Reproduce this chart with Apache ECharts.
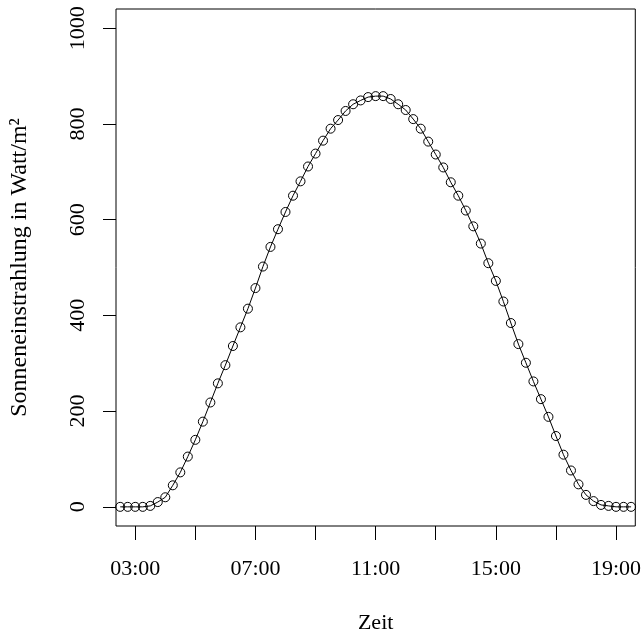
<!DOCTYPE html>
<html>
<head>
<meta charset="utf-8">
<script src="https://cdn.jsdelivr.net/npm/echarts@6/dist/echarts.min.js"></script>
<style>
  html, body { margin: 0; padding: 0; background: #fff; }
  #main { width: 644px; height: 639px; }
</style>
</head>
<body>
<div id="main"></div>
<script>
// Zeitpunkte (alle 15 Minuten)
var zeiten = [
  '02:30','02:45','03:00','03:15','03:30','03:45','04:00','04:15','04:30','04:45',
  '05:00','05:15','05:30','05:45','06:00','06:15','06:30','06:45','07:00','07:15',
  '07:30','07:45','08:00','08:15','08:30','08:45','09:00','09:15','09:30','09:45',
  '10:00','10:15','10:30','10:45','11:00','11:15','11:30','11:45','12:00','12:15',
  '12:30','12:45','13:00','13:15','13:30','13:45','14:00','14:15','14:30','14:45',
  '15:00','15:15','15:30','15:45','16:00','16:15','16:30','16:45','17:00','17:15',
  '17:30','17:45','18:00','18:15','18:30','18:45','19:00','19:15','19:30'
];
// Sonneneinstrahlung in W/m^2
var strahlung = [
  0, 0, 0, 0, 2, 10, 20, 45, 72, 105,
  140, 178, 218, 258, 296, 336, 375, 414, 457, 502,
  543, 580, 616, 650, 680, 711, 738, 765, 790, 808,
  827, 841, 849, 856, 858, 858, 852, 841, 829, 810,
  790, 763, 736, 709, 678, 650, 619, 586, 550, 509,
  472, 429, 384, 340, 301, 262, 225, 188, 148, 109,
  76, 47, 25, 12, 4, 2, 0, 0, 0
];
var xTicks = ['03:00','05:00','07:00','09:00','11:00','13:00','15:00','17:00','19:00'];
var xLabels = ['03:00','07:00','11:00','15:00','19:00'];
var yTicks = [0, 200, 400, 600, 800, 1000];

function toMin(s) {
  var p = s.split(':');
  return +p[0] * 60 + +p[1];
}
function toTime(m) {
  var h = Math.floor(m / 60), mm = Math.round(m % 60);
  return (h < 10 ? '0' : '') + h + ':' + (mm < 10 ? '0' : '') + mm;
}

var daten = zeiten.map(function (z, i) { return [toMin(z), strahlung[i]]; });
var font = 'Liberation Serif';

var chart = echarts.init(document.getElementById('main'));
chart.setOption({
  animation: false,
  backgroundColor: '#fff',
  grid: {
    left: 113, right: 5, top: 9, bottom: 106,
    show: true, borderColor: '#000', borderWidth: 1, backgroundColor: 'transparent'
  },
  xAxis: {
    type: 'value',
    min: 141.6,
    max: 1178.4,
    name: 'Zeit',
    nameLocation: 'middle',
    nameGap: 86,
    nameTextStyle: { fontFamily: font, fontSize: 22, color: '#000' },
    axisLine: { show: false, onZero: false },
    splitLine: { show: false },
    axisTick: {
      show: true, inside: false, length: 14,
      lineStyle: { color: '#000', width: 1 },
      customValues: xTicks.map(toMin)
    },
    axisLabel: {
      margin: 32,
      fontFamily: font, fontSize: 22, color: '#000',
      customValues: xLabels.map(toMin),
      formatter: function (v) { return toTime(v); }
    }
  },
  yAxis: {
    type: 'value',
    min: -40,
    max: 1040,
    name: 'Sonneneinstrahlung in Watt/m²',
    nameLocation: 'middle',
    nameGap: 84,
    nameTextStyle: { fontFamily: font, fontSize: 24, color: '#000' },
    axisLine: { show: false, onZero: false },
    splitLine: { show: false },
    axisTick: {
      show: true, inside: false, length: 13,
      lineStyle: { color: '#000', width: 1 },
      customValues: yTicks
    },
    axisLabel: {
      margin: 27,
      rotate: 90,
      fontFamily: font, fontSize: 22, color: '#000',
      customValues: yTicks,
      formatter: function (v) { return String(v); }
    }
  },
  series: [{
    type: 'line',
    data: daten,
    symbol: 'circle',
    symbolSize: 9,
    showSymbol: true,
    showAllSymbol: true,
    lineStyle: { color: '#000', width: 1 },
    itemStyle: { color: 'rgba(0,0,0,0)', borderColor: '#000', borderWidth: 1 },
    emphasis: { disabled: true }
  }]
});
</script>
</body>
</html>
